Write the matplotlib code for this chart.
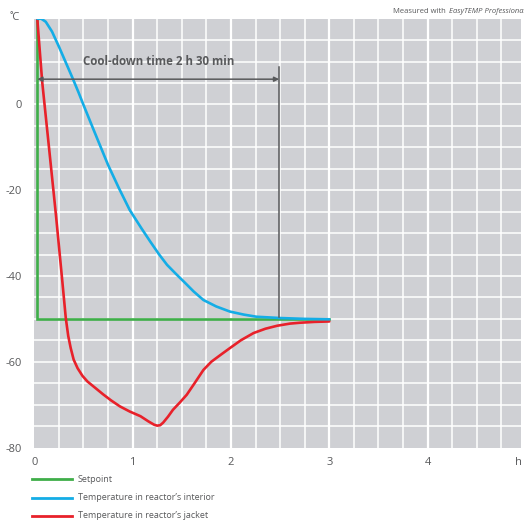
import matplotlib
matplotlib.use("Agg")
import matplotlib.pyplot as plt
from matplotlib.lines import Line2D

# --- data (hours, degrees C) ---
setpoint_t = [0.025, 0.025, 3.0]
setpoint_v = [20, -50, -50]

interior_t = [0.03, 0.07, 0.116, 0.18, 0.25, 0.32, 0.39, 0.45, 0.5, 0.61, 0.75, 0.86,
              0.97, 1.09, 1.18, 1.27, 1.35, 1.44, 1.52, 1.62, 1.72, 1.85, 1.99, 2.13,
              2.26, 2.5, 2.75, 3.0]
interior_v = [20.0, 20.0, 19.3, 17.0, 13.5, 9.8, 6.1, 2.8, -0.1, -6.3, -14.1, -19.5,
              -24.6, -28.9, -32.0, -35.0, -37.4, -39.5, -41.3, -43.6, -45.6, -47.1, -48.3, -49.0,
              -49.5, -49.8, -50.0, -50.1]

jacket_t = [0.03, 0.08, 0.15, 0.22, 0.285, 0.32, 0.345, 0.37, 0.40, 0.44, 0.49, 0.54,
            0.62, 0.70, 0.78, 0.87, 0.97, 1.08, 1.16, 1.22, 1.25, 1.28, 1.31, 1.36,
            1.41, 1.48, 1.55, 1.63, 1.72, 1.8, 1.9, 1.99, 2.1, 2.23, 2.35, 2.47,
            2.6, 2.7, 2.85, 3.0]
jacket_v = [20.0, 5.3, -10.2, -25.8, -41.3, -49.8, -54.0, -56.8, -59.5, -61.5, -63.3, -64.6,
            -66.1, -67.6, -69.0, -70.4, -71.6, -72.7, -73.9, -74.7, -74.9, -74.8, -74.2, -72.8,
            -71.2, -69.5, -67.7, -65.0, -61.9, -60.0, -58.3, -56.8, -55.0, -53.3, -52.3, -51.6,
            -51.1, -50.9, -50.7, -50.6]

series_labels = ["Setpoint", "Temperature in reactor\u2019s interior", "Temperature in reactor\u2019s jacket"]
series_colors = ["#3fae49", "#14ade6", "#e8212a"]

cooldown_end = 2.49
arrow_y = 5.9
y_ticks = [0, -20, -40, -60, -80]
x_ticks = [0, 1, 2, 3, 4]

plt.rcParams["font.family"] = ["Open Sans", "DejaVu Sans"]
text_gray = "#58595b"

fig = plt.figure(figsize=(5.24, 5.26), dpi=100)
ax = fig.add_axes([0.0655, 0.1492, 0.9288, 0.8152])
ax.set_facecolor("#cfd0d4")
ax.set_xlim(0, 4.95)
ax.set_ylim(-80, 20)

# white grid: every 0.25 h and every 5 degrees
for i in range(1, 20):
    x = i * 0.25
    ax.axvline(x, color="white", lw=1.6 if i % 4 == 0 else 1.1, zorder=1)
for v in range(-75, 20, 5):
    ax.axhline(v, color="white", lw=1.1, zorder=1)

for spine in ax.spines.values():
    spine.set_visible(False)
ax.tick_params(length=0, colors=text_gray, labelsize=8)
ax.set_yticks(y_ticks)
ax.set_yticklabels([str(v) for v in y_ticks])
ax.set_xticks(x_ticks)
ax.set_xticklabels([str(v) for v in x_ticks])
ax.tick_params(axis="y", pad=9)
ax.tick_params(axis="x", pad=7)

l_set, = ax.plot(setpoint_t, setpoint_v, color=series_colors[0], lw=1.9, zorder=3, solid_joinstyle="miter")
l_jac, = ax.plot(jacket_t, jacket_v, color=series_colors[2], lw=1.9, zorder=4,
                 solid_joinstyle="round", solid_capstyle="round")
l_int, = ax.plot(interior_t, interior_v, color=series_colors[1], lw=1.9, zorder=5,
                 solid_joinstyle="round", solid_capstyle="round")

# cool-down marker
ax.plot([cooldown_end, cooldown_end], [8.8, -49.5], color=text_gray, lw=1.1, zorder=6)
ax.annotate("", xy=(cooldown_end, arrow_y), xytext=(0.03, arrow_y),
            arrowprops=dict(arrowstyle="<|-|>", color=text_gray, lw=1.1,
                            mutation_scale=7, shrinkA=0, shrinkB=0), zorder=6)
ax.text(1.26, 10.1, "Cool-down time 2 h 30 min", ha="center", va="center",
        fontsize=8.3, fontweight="bold", color=text_gray, zorder=7)

ax.text(4.92, -82.2, "h", ha="center", va="top", fontsize=8, color=text_gray, clip_on=False)
fig.text(15 / 524, 1 - 18 / 526, "\u02daC", ha="center", va="center", fontsize=8, color=text_gray)

fig.text(393 / 524, 1 - 11.7 / 526, "Measured with ", ha="left", va="center",
         fontsize=5.5, color=text_gray)
fig.text(449 / 524, 1 - 11.7 / 526, "EasyTEMP Professional", ha="left", va="center",
         fontsize=5.5, color=text_gray, style="italic")

# legend drawn below the plot
for k, (line, label) in enumerate(zip([l_set, l_int, l_jac], series_labels)):
    yp = 1 - (479.3 + 18.35 * k) / 526
    fig.add_artist(Line2D([32.3 / 524, 71.7 / 524], [yp, yp], color=line.get_color(), lw=2.0))
    fig.text(77.5 / 524, yp, label, ha="left", va="center", fontsize=6.5, color=text_gray)

fig.savefig("out.png", dpi=100)
